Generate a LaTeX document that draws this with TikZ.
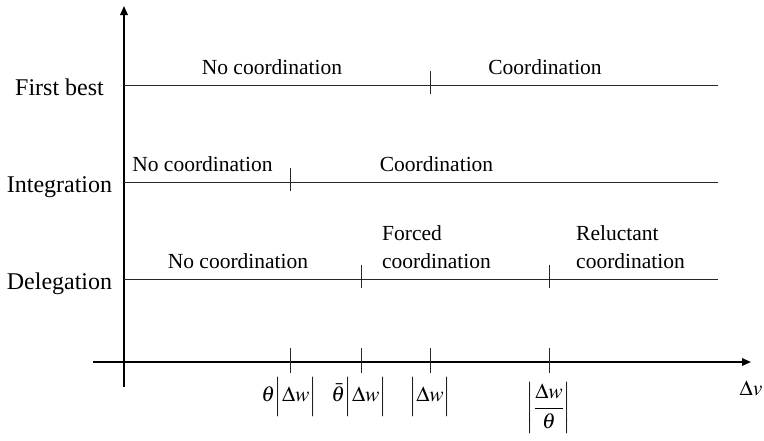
\documentclass[tikz,border=0pt]{standalone}
\usepackage{mathptmx}
\usepackage[no-math]{fontspec}
\setmainfont{Liberation Serif}
\usetikzlibrary{arrows.meta}
\begin{document}
\begin{tikzpicture}[x=1pt,y=-1pt,
  axisline/.style={line width=1.6pt,-{Triangle[length=9pt,width=7.5pt]}},
  rowline/.style={line width=1pt,draw=black!85},
  tickline/.style={line width=0.9pt,draw=black!85},
  rowlabel/.style={font=\fontsize{24}{28}\selectfont,anchor=base,inner sep=0pt},
  region/.style={font=\fontsize{21.5}{28}\selectfont,anchor=base,inner sep=0pt},
  regionw/.style={font=\fontsize{21.5}{28}\selectfont,anchor=base west,inner sep=0pt},
  mlabel/.style={font=\fontsize{21.5}{28}\selectfont,anchor=north,inner sep=0pt}]
\useasboundingbox (0,0) rectangle (764,440);

% axes
\coordinate (ybot) at (124,387);
\coordinate (ytop) at (124,6);
\coordinate (xleft) at (93,362);
\coordinate (xright) at (751,362);
\draw[axisline] (ybot) -- (ytop);
\draw[axisline] (xleft) -- (xright);

% rows
\coordinate (r1a) at (124,85);  \coordinate (r1b) at (718,85);
\coordinate (r2a) at (124,182); \coordinate (r2b) at (718,182);
\coordinate (r3a) at (124,279); \coordinate (r3b) at (718,279);
\draw[rowline] (r1a) -- (r1b);
\draw[rowline] (r2a) -- (r2b);
\draw[rowline] (r3a) -- (r3b);

% row ticks
\coordinate (t1a) at (430,71);  \coordinate (t1b) at (430,94);
\coordinate (t2a) at (290,168); \coordinate (t2b) at (290,191);
\coordinate (t3a) at (361,265); \coordinate (t3b) at (361,288);
\coordinate (t4a) at (549,265); \coordinate (t4b) at (549,288);
\draw[tickline] (t1a) -- (t1b);
\draw[tickline] (t2a) -- (t2b);
\draw[tickline] (t3a) -- (t3b);
\draw[tickline] (t4a) -- (t4b);

% axis ticks
\coordinate (a1a) at (290,348); \coordinate (a1b) at (290,373);
\coordinate (a2a) at (361,348); \coordinate (a2b) at (361,373);
\coordinate (a3a) at (430,348); \coordinate (a3b) at (430,373);
\coordinate (a4a) at (549,348); \coordinate (a4b) at (549,373);
\draw[tickline] (a1a) -- (a1b);
\draw[tickline] (a2a) -- (a2b);
\draw[tickline] (a3a) -- (a3b);
\draw[tickline] (a4a) -- (a4b);

% row labels
\node[rowlabel] (fb) at (59.5,95) {First best};
\node[rowlabel] (ig) at (59.5,192) {Integration};
\node[rowlabel] (dg) at (59.5,289) {Delegation};

% region labels
\node[region] (fbno) at (272,74) {No coordination};
\node[region] (fbco) at (545,74) {Coordination};
\node[region] (igno) at (202.5,171) {No coordination};
\node[region] (igco) at (436.5,171) {Coordination};
\node[region] (dgno) at (238,268) {No coordination};
\node[regionw] (dgfo1) at (382,240) {Forced};
\node[regionw] (dgfo2) at (382,268) {coordination};
\node[regionw] (dgre1) at (576,240) {Reluctant};
\node[regionw] (dgre2) at (576,268) {coordination};

% axis labels
\node[mlabel] (m1) at (289,377) {$\theta\Bigl|\Delta w\Bigr|$};
\node[mlabel] (m2) at (359,377) {$\bar{\theta}\Bigl|\Delta w\Bigr|$};
\node[mlabel] (m3) at (430,377) {$\Bigl|\Delta w\Bigr|$};
\node[mlabel] (m4) at (549,382) {$\left|\displaystyle\frac{\Delta w}{\theta}\right|$};
\node[font=\fontsize{21.5}{28}\selectfont,inner sep=0pt] (dv) at (751,388) {$\Delta v$};
\end{tikzpicture}
\end{document}
